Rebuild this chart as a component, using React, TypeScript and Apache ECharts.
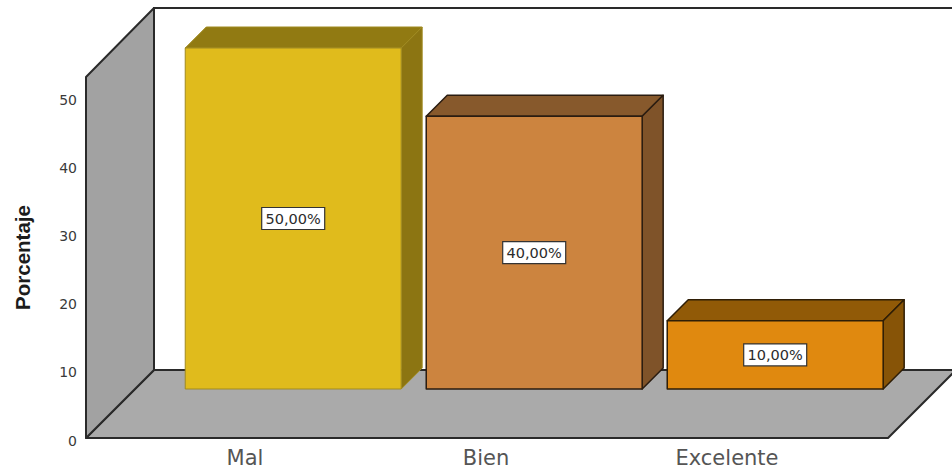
import React, { useEffect, useRef } from "react";
import * as echarts from "echarts";

const categories = ["Mal", "Bien", "Excelente"];
const percentages = [50, 40, 10];
const tickValues = [0, 10, 20, 30, 40, 50];
const axisTitle = "Porcentaje";

const WIDTH = 952;
const HEIGHT = 473;

// Plot frame: the value scale runs along the front-left edge of the box.
const GRID = { left: 124.5, right: 847.5, top: 97, bottom: 438 };
const AXIS_X = 86;
const BOX_DEPTH = 68;
const WALL_TOP = 77;
const FLOOR_RIGHT = 888;
const LINE = "#2a2a2a";

// Bars stand part-way back on the floor and have their own shallow depth.
const BAR_SHIFT = 48.2;
const BAR_DEPTH = 21;
const BAR_WIDTH_RATIO = 0.896;

const barStyles = [
  { front: "#e0bb1c", top: "#917a12", side: "#8c7512", edge: "#a08a20", edgeWidth: 1 },
  { front: "#cc843f", top: "#87592c", side: "#7f5329", edge: "#2a1c10", edgeWidth: 1.5 },
  { front: "#e0890f", top: "#915a07", side: "#875407", edge: "#2f1e06", edgeWidth: 1.5 },
];

function formatPercent(v: number) {
  return v.toFixed(2).replace(".", ",") + "%";
}

function renderBar(params: any, api: any) {
  const index = api.value(0);
  const value = api.value(1);
  const base = api.coord([index, 0]);
  const tip = api.coord([index, value]);
  const halfWidth = (api.size([1, 0])[0] * BAR_WIDTH_RATIO) / 2;
  const left = base[0] + BAR_SHIFT - halfWidth;
  const right = base[0] + BAR_SHIFT + halfWidth;
  const bottom = base[1] - 49;
  const top = tip[1] - 49;
  const c = barStyles[params.dataIndex];
  const stroke = { stroke: c.edge, lineWidth: c.edgeWidth, lineJoin: "round" };
  const cx = (left + right) / 2;
  const cy = (top + bottom) / 2;
  return {
    type: "group",
    children: [
      {
        type: "polygon",
        shape: {
          points: [
            [left, top],
            [left + BAR_DEPTH, top - BAR_DEPTH],
            [right + BAR_DEPTH, top - BAR_DEPTH],
            [right, top],
          ],
        },
        style: { fill: c.top, ...stroke },
      },
      {
        type: "polygon",
        shape: {
          points: [
            [right, top],
            [right + BAR_DEPTH, top - BAR_DEPTH],
            [right + BAR_DEPTH, bottom - BAR_DEPTH],
            [right, bottom],
          ],
        },
        style: { fill: c.side, ...stroke },
      },
      {
        type: "rect",
        shape: { x: left, y: top, width: right - left, height: bottom - top },
        style: { fill: c.front, ...stroke },
      },
      {
        type: "rect",
        shape: { x: cx - 31.5, y: cy - 11, width: 63, height: 22 },
        style: { fill: "#ffffff", stroke: "#333333", lineWidth: 1.2 },
      },
      {
        type: "text",
        style: {
          text: formatPercent(value),
          x: cx,
          y: cy,
          align: "center",
          verticalAlign: "middle",
          font: '14.5px "DejaVu Sans"',
          fill: "#2b2b2b",
        },
      },
    ],
  };
}

function buildOption() {
  const { left, right, top, bottom } = GRID;
  return {
    animation: false,
    backgroundColor: "#ffffff",
    grid: {
      left,
      top,
      width: right - left,
      height: bottom - top,
      containLabel: false,
    },
    graphic: [
      // Back wall outline, side wall and floor of the box.
      {
        type: "polyline",
        z: 0,
        shape: {
          points: [
            [AXIS_X + BOX_DEPTH, bottom - BOX_DEPTH],
            [AXIS_X + BOX_DEPTH, 8],
            [WIDTH, 8],
          ],
        },
        style: { fill: "none", stroke: LINE, lineWidth: 2 },
      },
      {
        type: "polygon",
        z: 0,
        shape: {
          points: [
            [AXIS_X, bottom],
            [AXIS_X + BOX_DEPTH, bottom - BOX_DEPTH],
            [FLOOR_RIGHT + BOX_DEPTH, bottom - BOX_DEPTH],
            [FLOOR_RIGHT, bottom],
          ],
        },
        style: { fill: "#aaaaaa", stroke: LINE, lineWidth: 2, lineJoin: "round" },
      },
      {
        type: "polygon",
        z: 0,
        shape: {
          points: [
            [AXIS_X, bottom],
            [AXIS_X + BOX_DEPTH, bottom - BOX_DEPTH],
            [AXIS_X + BOX_DEPTH, 8],
            [AXIS_X, WALL_TOP],
          ],
        },
        style: { fill: "#a2a2a2", stroke: LINE, lineWidth: 2, lineJoin: "round" },
      },
    ],
    xAxis: {
      type: "category",
      data: categories,
      axisLine: { show: false },
      axisTick: { show: false },
      axisLabel: {
        margin: 9,
        fontFamily: "DejaVu Sans",
        fontSize: 21,
        color: "#555555",
      },
    },
    yAxis: {
      type: "value",
      min: tickValues[0],
      max: tickValues[tickValues.length - 1],
      interval: 10,
      offset: left - AXIS_X,
      splitLine: { show: false },
      axisLine: { show: false },
      axisTick: { show: false },
      axisLabel: {
        margin: 9,
        fontFamily: "DejaVu Sans",
        fontSize: 14,
        color: "#3a3a3a",
        formatter: "{t|{value}}",
        rich: {
          // Tick numbers sit slightly below their scale positions.
          t: {
            fontFamily: "DejaVu Sans",
            fontSize: 14,
            color: "#3a3a3a",
            padding: [5, 0, 0, 0],
          },
        },
      },
      name: axisTitle,
      nameLocation: "middle",
      nameGap: 53,
      nameTextStyle: {
        fontFamily: "Liberation Sans",
        fontWeight: "bold",
        fontSize: 20.5,
        color: "#1c1c1c",
        padding: [0, 0, 0, 20],
      },
    },
    series: [
      {
        type: "custom",
        renderItem: renderBar,
        clip: false,
        encode: { x: 0, y: 1 },
        data: percentages.map((v, i) => [i, v]),
        z: 3,
      },
    ],
  };
}

export default function App() {
  const ref = useRef<HTMLDivElement>(null);
  useEffect(() => {
    document.body.style.margin = "0";
    const chart = echarts.init(ref.current!, undefined, { renderer: "svg" });
    chart.setOption(buildOption() as any);
    return () => chart.dispose();
  }, []);
  return <div ref={ref} style={{ width: WIDTH, height: HEIGHT, overflow: "hidden" }} />;
}
